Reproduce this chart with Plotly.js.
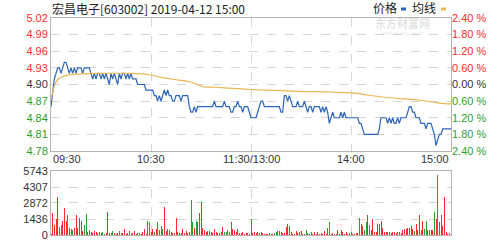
<!DOCTYPE html>
<html><head><meta charset="utf-8">
<script src="https://cdn.plot.ly/plotly-3.0.1.min.js"></script>
<style>html,body{margin:0;padding:0;background:#fff;}#chart{width:502px;height:240px;}</style>
</head><body><div id="chart"></div>
<script>
const titleText = '宏昌电子[603002] 2019-04-12 15:00';
const legendNames = ['价格', '均线'];
const watermarkText = '东方财富网';
const watermarkSub = 'eastmoney.com';
const prevClose = 4.90;
const timeLabels = ['09:30', '10:30', '11:30/13:00', '14:00', '15:00'];
const timeTickMinutes = [0, 60, 120, 180, 240];
const priceTickLabels = ['5.02','4.99','4.96','4.93','4.90','4.87','4.84','4.81','4.78'];
const pctTickLabels = ['2.40 %','1.80 %','1.20 %','0.60 %','0.00 %','0.60 %','1.20 %','1.80 %','2.40 %'];
const volTickLabels = ['5743','4307','2872','1436','0'];

// minute-by-minute price (09:30 .. 15:00, lunch merged)
const price = [
4.86,4.89,4.91,4.92,4.93,4.93,4.92,4.93,4.94,4.94,
4.93,4.92,4.93,4.92,4.93,4.92,4.93,4.93,4.93,4.92,
4.93,4.93,4.93,4.93,4.92,4.91,4.92,4.91,4.92,4.92,
4.91,4.92,4.91,4.92,4.91,4.90,4.92,4.91,4.92,4.91,
4.90,4.92,4.91,4.92,4.92,4.91,4.92,4.91,4.92,4.91,
4.91,4.91,4.90,4.90,4.90,4.90,4.90,4.89,4.89,4.89,
4.89,4.89,4.88,4.88,4.87,4.88,4.87,4.88,4.89,4.88,
4.89,4.88,4.88,4.87,4.87,4.88,4.88,4.88,4.87,4.88,
4.88,4.88,4.88,4.86,4.85,4.85,4.86,4.85,4.86,4.86,
4.86,4.86,4.86,4.86,4.86,4.86,4.86,4.86,4.87,4.86,
4.86,4.86,4.86,4.86,4.87,4.86,4.86,4.86,4.85,4.85,
4.86,4.86,4.87,4.86,4.86,4.85,4.86,4.86,4.86,4.85,
4.84,4.84,4.84,4.84,4.85,4.86,4.87,4.87,4.86,4.86,
4.86,4.86,4.86,4.86,4.86,4.86,4.86,4.86,4.85,4.85,
4.88,4.88,4.87,4.88,4.87,4.86,4.86,4.86,4.87,4.86,
4.86,4.86,4.87,4.86,4.85,4.86,4.86,4.85,4.86,4.86,
4.86,4.86,4.85,4.86,4.85,4.86,4.85,4.83,4.84,4.85,
4.84,4.84,4.84,4.84,4.85,4.84,4.85,4.84,4.84,4.84,
4.84,4.84,4.84,4.84,4.84,4.83,4.83,4.82,4.81,4.81,
4.81,4.81,4.81,4.81,4.81,4.81,4.81,4.82,4.84,4.84,
4.84,4.84,4.83,4.84,4.83,4.84,4.83,4.83,4.84,4.83,
4.84,4.84,4.84,4.84,4.85,4.86,4.86,4.85,4.85,4.84,
4.84,4.84,4.83,4.83,4.83,4.82,4.83,4.83,4.83,4.82,
4.81,4.79,4.80,4.81,4.81,4.82,4.82,4.82,4.82,4.82,
4.82
];

// average price line read at sample minutes
const avgMinutes = [0,2,4,6,10,18,28,48,58,66,74,79,83,87,91,99,109,119,139,153,160,170,180,184,190,200,212,220,230,234,240];
const avgPrice = [4.872,4.897,4.909,4.913,4.917,4.919,4.920,4.920,4.918,4.913,4.909,4.907,4.905,4.901,4.896,4.895,4.893,4.891,4.889,4.887,4.887,4.886,4.885,4.884,4.881,4.877,4.874,4.872,4.868,4.866,4.865];

const volume = [
100,1950,900,1400,3440,700,900,1300,2390,1300,
1800,600,500,450,600,1800,600,1500,1300,400,
900,1900,300,450,300,200,400,300,200,250,
150,250,100,200,2100,200,150,400,150,100,
150,400,200,150,550,100,200,400,100,150,
400,100,150,150,100,300,550,100,1300,1150,
300,550,300,550,1200,450,800,550,2540,400,
550,450,250,150,150,1500,300,150,200,500,
200,400,200,300,3140,1150,600,1300,1150,1950,
2950,600,450,250,400,400,300,200,550,250,
200,200,300,700,250,300,450,300,1150,550,
450,300,550,200,150,250,100,200,150,100,
1400,150,250,200,300,150,250,200,100,100,
100,150,100,100,150,300,400,400,300,150,
150,750,990,800,250,100,100,400,150,300,
400,100,100,450,200,100,300,100,250,100,
250,100,150,100,400,100,600,1190,100,200,
100,100,450,100,450,250,100,250,100,200,
250,100,100,150,200,1500,1010,800,450,1150,
1800,900,450,1410,300,250,1000,1000,1250,600,
300,300,250,300,150,300,250,150,250,300,
150,450,550,550,600,600,800,550,400,1030,
450,1800,450,1250,550,1300,450,450,450,450,
2030,1400,5400,1150,1800,800,3380,300,100,150,
2900
];
const volUp = [
1,1,1,1,1,0,0,1,1,1,
0,1,0,0,1,1,1,1,1,1,
0,0,1,1,1,1,1,1,0,1,
1,0,0,1,1,0,0,0,1,1,
1,0,0,1,1,1,1,1,1,1,
1,1,1,0,1,1,1,1,0,0,
1,1,0,1,0,1,0,0,1,1,
0,0,1,1,1,1,1,1,1,1,
1,1,0,0,0,0,1,0,1,1,
1,1,1,1,1,1,1,1,1,1,
1,1,0,1,0,0,0,0,1,1,
1,1,1,1,1,1,1,1,1,1,
0,1,1,1,1,1,1,1,1,1,
1,1,1,1,0,0,1,1,1,1,
1,1,1,0,1,1,1,1,1,1,
1,1,1,0,1,1,0,1,1,1,
0,1,1,1,1,1,0,0,1,1,
1,1,1,1,1,1,1,1,1,1,
0,1,1,1,1,0,1,1,0,0,
1,0,1,1,1,1,1,1,1,1,
1,1,0,1,1,1,1,1,0,1,
1,1,1,1,1,1,1,1,0,1,
1,1,0,1,0,0,1,0,1,1,
0,1,0,1,1,1,1,1,1,1,
1
];

const RED = '#ff2a2a', GREEN = '#2f9e2f', BLACK = '#333333';
const minutes = price.map((_, i) => i);
const priceTickVals = priceTickLabels.map(Number);
const volTickVals = volTickLabels.map(Number);
const colorFor = v => Math.abs(v - prevClose) < 1e-9 ? BLACK : (v > prevClose ? RED : GREEN);
const span = (t, c) => '<span style="color:' + c + '">' + t + '</span>';
const priceTickText = priceTickLabels.map((t, i) => span(t, colorFor(priceTickVals[i])));
const pctTickText = pctTickLabels.map((t, i) => span(t, colorFor(priceTickVals[i])));

const numFont = {family: 'Liberation Sans, Arial, sans-serif', size: 11, color: BLACK};
const cjkFont = {family: 'Noto Sans CJK SC, sans-serif', size: 12, color: '#222'};
const grid = {showgrid: true, gridcolor: '#d6d6d6', griddash: 'dash', gridwidth: 1,
  showline: true, mirror: true, linecolor: '#b4b4b4', linewidth: 1, zeroline: false, ticks: '', fixedrange: true,
  ticklabeloverflow: 'allow'};

const pxX = px => (px - 51) / 400;
const pxY = py => (240 - py) / 240;

const traces = [
  {x: minutes, y: price, type: 'scatter', mode: 'lines', xaxis: 'x', yaxis: 'y',
   line: {color: '#2c64b8', width: 1.2}, hoverinfo: 'skip'},
  {x: avgMinutes, y: avgPrice, type: 'scatter', mode: 'lines', xaxis: 'x', yaxis: 'y',
   line: {color: '#e8b654', width: 1.2, shape: 'spline', smoothing: 0.6}, hoverinfo: 'skip'},
  {x: minutes, y: price, type: 'scatter', mode: 'lines', xaxis: 'x', yaxis: 'y3',
   line: {color: 'rgba(0,0,0,0)', width: 0}, hoverinfo: 'skip'},
  {x: minutes, y: volume, type: 'bar', xaxis: 'x2', yaxis: 'y2', width: 0.6,
   marker: {color: volUp.map(u => u ? RED : GREEN), line: {width: 0}}, hoverinfo: 'skip'}
];

const annotations = [
  {text: titleText, xref: 'paper', yref: 'paper', x: pxX(50), y: pxY(9), xanchor: 'left', yanchor: 'middle',
   showarrow: false, font: cjkFont},
  {text: watermarkText, xref: 'paper', yref: 'paper', x: pxX(402), y: pxY(23), xanchor: 'center', yanchor: 'middle',
   showarrow: false, font: {family: 'Noto Sans CJK SC, sans-serif', size: 11, color: 'rgba(0,0,0,0.13)', weight: 'bold'}},
  {text: watermarkSub, xref: 'paper', yref: 'paper', x: pxX(402), y: pxY(33), xanchor: 'center', yanchor: 'middle',
   showarrow: false, font: {family: 'Liberation Sans, sans-serif', size: 6, color: 'rgba(0,0,0,0.15)'}},
  {text: legendNames[0], xref: 'paper', yref: 'paper', x: pxX(385), y: pxY(8), xanchor: 'center', yanchor: 'middle',
   showarrow: false, font: cjkFont},
  {text: legendNames[1], xref: 'paper', yref: 'paper', x: pxX(424), y: pxY(8), xanchor: 'center', yanchor: 'middle',
   showarrow: false, font: cjkFont}
];
timeLabels.forEach((t, i) => {
  annotations.push({text: t, xref: 'x', yref: 'paper', x: timeTickMinutes[i], y: pxY(159),
    xanchor: i === 0 ? 'left' : (i === timeLabels.length - 1 ? 'right' : 'center'), yanchor: 'middle',
    showarrow: false, font: numFont});
});

const shapes = [
  {type: 'rect', xref: 'paper', yref: 'paper', x0: pxX(401), x1: pxX(406), y0: pxY(10.5), y1: pxY(7.5),
   fillcolor: '#2c64b8', line: {width: 0}},
  {type: 'rect', xref: 'paper', yref: 'paper', x0: pxX(441), x1: pxX(446), y0: pxY(10.5), y1: pxY(7.5),
   fillcolor: '#e8b654', line: {width: 0}}
];

const layout = {
  width: 502, height: 240, margin: {l: 51, r: 51, t: 0, b: 0},
  paper_bgcolor: '#fff', plot_bgcolor: '#fff', showlegend: false, bargap: 0,
  font: numFont,
  xaxis: Object.assign({}, grid, {domain: [0, 1], anchor: 'y', range: [0, 240],
    tickvals: timeTickMinutes.slice(1, -1), showticklabels: false}),
  yaxis: Object.assign({}, grid, {domain: [pxY(151), pxY(18)], anchor: 'x', range: [4.78, 5.02],
    tickvals: priceTickVals, ticktext: priceTickText, tickfont: numFont}),
  yaxis3: {overlaying: 'y', side: 'right', anchor: 'x', range: [4.78, 5.02], tickvals: priceTickVals,
    ticktext: pctTickText, tickfont: numFont, showgrid: false, zeroline: false, showline: false, ticks: '',
    fixedrange: true, ticklabeloverflow: 'allow'},
  xaxis2: Object.assign({}, grid, {domain: [0, 1], anchor: 'y2', range: [0, 240],
    tickvals: timeTickMinutes.slice(1, -1), showticklabels: false}),
  yaxis2: Object.assign({}, grid, {domain: [pxY(235), pxY(171)], anchor: 'x2', range: [0, 5743],
    tickvals: volTickVals, ticktext: volTickLabels, tickfont: numFont}),
  annotations: annotations,
  shapes: shapes
};

Plotly.newPlot('chart', traces, layout, {displayModeBar: false, staticPlot: true});
</script>
</body></html>
